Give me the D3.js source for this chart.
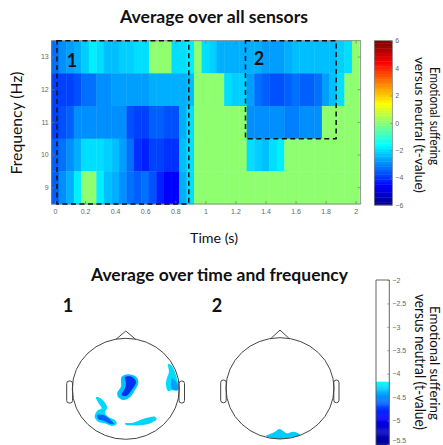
<!DOCTYPE html>
<html><head><meta charset="utf-8">
<script src="https://cdn.jsdelivr.net/npm/d3@7/dist/d3.min.js"></script>
<style>html,body{margin:0;padding:0;background:#fff}svg{display:block}
.tick text{font-family:"Liberation Sans",sans-serif;font-size:7px;fill:#666}
.t{font-family:Lato,"Open Sans",sans-serif;fill:#111}</style></head><body>
<script>
const frequencies=[13,12,11,10,9];
const timeTicks=[0,0.2,0.4,0.6,0.8,1,1.2,1.4,1.6,1.8,2];
const barTicks=[6,4,2,0,-2,-4,-6];
const bar2Ticks=[-2,-2.5,-3,-3.5,-4,-4.5,-5,-5.5];
const t13=[-3.2,-3.0,-2.8,-2.6,-2.2,-1.8,-2.0,-2.3,-2.3,-2.2,-2.1,-2.0,-2.0,0,0,0,-2.0,-2.0,-1.8,0,-2.0,-2.2,-2.5,-2.6,-2.6,-2.6,-2.5,-2.5,-2.7,-2.8,-2.8,-2.5,-2.4,-2.4,-2.4,-2.4,-2.4,-2.3,-2.2,-2.0,0];
const t12=[-3.8,-3.9,-3.8,-3.6,-3.2,-3.2,-3.0,-2.9,-2.8,-2.8,-2.7,-2.7,-2.7,-2.6,-2.6,-2.6,-2.6,-2.6,-2.3,0,0,0,0,-1.9,-2.1,-2.2,-2.8,-3.3,-3.5,-3.6,-3.6,-3.4,-3.3,-3.4,-3.4,-3.2,-2.8,-2.4,-2.0,0,0];
const t11=[-3.8,-3.6,-3.4,-3.0,-2.9,-2.9,-2.9,-2.9,-2.9,-2.9,-3.7,-3.8,-3.8,-3.5,-3.4,-3.6,-3.7,-2.5,-2.0,0,0,0,0,0,0,0,-2.9,-3.0,-3.0,-3.0,-3.0,-3.1,-3.1,-3.0,-3.0,-3.0,0,0,0,0,0];
const t10=[-3.5,-3.2,-3.0,-2.5,-1.9,-1.9,-1.9,-2.2,-2.3,-2.8,-3.2,-4.1,-4.2,-3.9,-3.9,-4.0,-4.0,-2.4,-2.0,0,0,0,0,0,0,0,-1.9,-2.2,-2.3,-2.0,-1.8,0,0,0,0,0,0,0,0,0,0];
const t9=[-3.5,-3.0,-2.5,-1.7,0,0,-1.8,-2.3,-2.6,-3.0,-3.2,-3.4,-3.3,-3.6,-4.2,-4.6,-4.6,-2.6,-2.0,0,0,0,0,0,0,0,0,0,0,0,0,0,0,0,0,0,0,0,0,0,0];
const rows=[t13,t12,t11,t10,t9];
// scalp clusters in head units
const blobCentralOuter=[[305,170],[325,163],[350,172],[355,190],[345,210],[330,232],[310,240],[295,232],[292,218],[303,200],[303,180]];
const blobCentralInner=[[315,172],[335,170],[348,185],[335,210],[318,228],[305,225],[315,205],[318,190]];
const blobLeftOuter=[[228,232],[242,235],[262,262],[255,278],[265,290],[285,300],[290,312],[275,318],[255,310],[235,305],[224,290],[232,272],[245,265],[236,250]];
const blobLeftInner=[[232,285],[250,285],[272,300],[282,312],[272,312],[250,302],[235,298]];
const blobBack=[[315,310],[340,308],[375,295],[405,290],[410,298],[395,308],[360,316],[335,316],[318,315]];
const blobRightOuter=[[444,132],[456,138],[468,165],[475,195],[474,211],[456,211],[444,213],[438,192],[441,174],[447,156]];
const blobRightInner=[[456,174],[474,195],[474,210],[456,207]];
const blobHead2=[[288,348],[300,342],[315,335],[328,327],[340,333],[350,340],[370,335],[385,340],[392,345],[370,352],[330,357],[300,353]];

const jet=d3.scaleLinear().domain([0,1/8,3/8,5/8,7/8,1])
 .range(["#000080","#0000ff","#00ffff","#ffff00","#ff0000","#800000"]).clamp(true);
const binColor=v=>{const i=Math.max(0,Math.min(63,Math.floor((v+6)/12*64)));return jet((i+1)/64);};

const svg=d3.select("body").append("svg").attr("width",443).attr("height",445);
const defs=svg.append("defs");
defs.append("filter").attr("id","soft").append("feGaussianBlur").attr("stdDeviation",0.35);
defs.append("filter").attr("id","soft2").append("feGaussianBlur").attr("stdDeviation",0.6);

const L=51.7,R=360.7,T=40.7,B=204;
const x=d3.scaleLinear().domain([0,2]).range([55,355.7]);
const y=d3.scaleBand().domain(frequencies).range([T,B]);
const step=x(0.05)-x(0);
const heat=svg.append("g");
rows.forEach((r,ri)=>{
 heat.selectAll(null).data(r).enter().append("rect")
  .attr("x",(d,i)=>x(i*0.05)-step/2).attr("width",step+0.4)
  .attr("y",y(frequencies[ri])).attr("height",y.bandwidth()+0.4)
  .attr("fill",d=>binColor(d));
});
const axis=(g,grey="#777")=>{g.select(".domain").attr("stroke","none");g.selectAll("line").attr("stroke",grey).attr("stroke-width",0.7);};
svg.append("g").attr("transform",`translate(0,${B})`).call(d3.axisBottom(x).tickValues(timeTicks).tickSize(-3).tickPadding(5).tickFormat(d3.format("~g"))).call(axis);
svg.append("g").attr("transform",`translate(0,${T})`).call(d3.axisTop(x).tickValues(timeTicks).tickSize(-3).tickFormat("")).call(axis);
svg.append("g").attr("transform",`translate(${L},0)`).call(d3.axisLeft(y).tickSize(-3).tickPadding(3)).call(axis);
svg.append("g").attr("transform",`translate(${R},0)`).call(d3.axisRight(y).tickSize(-3).tickFormat("")).call(axis);
svg.append("rect").attr("x",L).attr("y",T).attr("width",R-L).attr("height",B-T).attr("fill","none").attr("stroke","#777").attr("stroke-width",0.8);

// dashed boxes: time/frequency windows
const win=(t0,t1,f0,f1)=>svg.append("rect").attr("x",x(t0)).attr("width",x(t1)-x(t0))
 .attr("y",y(f1)).attr("height",y(f0)+y.bandwidth()-y(f1))
 .attr("fill","none").attr("stroke","#111").attr("stroke-width",1.5).attr("stroke-dasharray","5 3.5");
win(0.013,0.89,9,13);
win(1.267,1.87,11,13);

// colourbar 1
const cb=d3.scaleLinear().domain([-6,6]).range([205,40.7]);
svg.append("g").selectAll("rect").data(d3.range(64)).enter().append("rect")
 .attr("x",374.3).attr("width",18).attr("y",i=>cb(-6+(i+1)*12/64)).attr("height",i=>cb(-6+i*12/64)-cb(-6+(i+1)*12/64)+0.4)
 .attr("fill",i=>jet((i+1)/64));
svg.append("rect").attr("x",374.3).attr("y",40.7).attr("width",18).attr("height",164.3).attr("fill","none").attr("stroke","#777").attr("stroke-width",0.7);
svg.append("g").attr("transform","translate(392.3,0)").call(d3.axisRight(cb).tickValues(barTicks).tickSize(-2).tickPadding(3)).call(axis);

// colourbar 2 (thresholded)
const cb2=d3.scaleLinear().domain([-2,-5.5]).range([280,444]);
const cb2col=d3.scaleLinear().domain([-4.17,-4.9,-5.6]).range(["#00ffff","#0000ff","#000080"]);
svg.append("g").selectAll("rect").data(d3.range(-4.17,-5.7,-0.02)).enter().append("rect")
 .attr("x",376).attr("width",13.3).attr("y",d=>cb2(d)).attr("height",1.3).attr("fill",d=>cb2col(d));
svg.append("path").attr("d","M376,445V280H389.3V445").attr("fill","none").attr("stroke","#555").attr("stroke-width",0.9);
svg.append("g").attr("transform","translate(389.3,0)").call(d3.axisRight(cb2).tickValues(bar2Ticks).tickSize(-2).tickPadding(3).tickFormat(d3.format("~g"))).call(axis)
 .call(g=>g.selectAll("text").filter(d=>d===-5.5).attr("y",-4));

// scalp maps
function head(domX,domY,rngX,rngY,blobs,nose,earL,earR){
 const hx=d3.scaleLinear().domain(domX).range(rngX),hy=d3.scaleLinear().domain(domY).range(rngY);
 const g=svg.append("g");
 const blob=d3.line().x(d=>hx(d[0])).y(d=>hy(d[1])).curve(d3.curveCatmullRomClosed);
 const bg=g.append("g").attr("filter","url(#soft2)");
 blobs.forEach(([pts,c])=>bg.append("path").attr("d",blob(pts)).attr("fill",c));
 const cx=(rngX[0]+rngX[1])/2,cy=(rngY[0]+rngY[1])/2;
 const ol=g.append("g").attr("fill","none").attr("stroke","#444").attr("stroke-width",1).attr("filter","url(#soft)");
 ol.append("ellipse").attr("cx",cx).attr("cy",cy).attr("rx",(rngX[1]-rngX[0])/2).attr("ry",(rngY[1]-rngY[0])/2);
 ol.append("path").attr("d",d3.line()([[cx-nose[0],rngY[0]+1.2],[cx,nose[1]],[cx+nose[0],rngY[0]+1.2]]));
 [earL,earR].forEach(e=>ol.append("rect").attr("x",e[0]).attr("width",e[1]-e[0]).attr("y",e[2]).attr("height",e[3]-e[2]).attr("rx",2.5));
}
head([157,478],[55,358],[72.3,179.3],[338.3,439.3],[
 [blobCentralOuter,"#00c4ff"],[blobCentralInner,"#0030f0"],
 [blobLeftOuter,"#00d8ff"],[blobLeftInner,"#0060ff"],
 [blobBack,"#00d4ff"],[blobRightOuter,"#00ddff"],[blobRightInner,"#00a0ff"]],
 [10,331],[66.7,72.6,381,403],[179,184.5,381,403]);
head([168,492],[53,357],[226,334],[337.7,439],[[blobHead2,"#00ccff"]],
 [9.5,330],[220.7,226.2,380,402.7],[333.8,339,380,402.7]);

// text
const txt=(s,x0,y0,size,weight,anchor="middle",rot=0,len=null)=>{
 const t=svg.append("text").attr("class","t").text(s).attr("font-size",size).attr("font-weight",weight).attr("text-anchor",anchor)
  .attr("transform",`translate(${x0},${y0}) rotate(${rot})`);
 if(len)t.attr("textLength",len).attr("lengthAdjust","spacingAndGlyphs");
};
txt("Average over all sensors",214,23,16.5,700,"middle",0,188);
txt("Average over time and frequency",219.5,281,16.5,700,"middle",0,257);
txt("Frequency (Hz)",22,123,14.5,400,"middle",-90,103);
txt("Time (s)",214,243,13.5,400,"middle",0,48);
txt("1",72,67,18,700);
txt("2",259,65,18,700);
txt("1",68,312,18,700);
txt("2",217,312,18,700);
txt("Emotional suffering",429.5,116,13,400,"middle",90,98);
txt("versus neutral (t-value)",415,125,13.5,400,"middle",90,136);
txt("Emotional suffering",429.5,363,13,400,"middle",90,114);
txt("versus neutral (t-value)",415,362,14.5,400,"middle",90,136);
</script></body></html>
